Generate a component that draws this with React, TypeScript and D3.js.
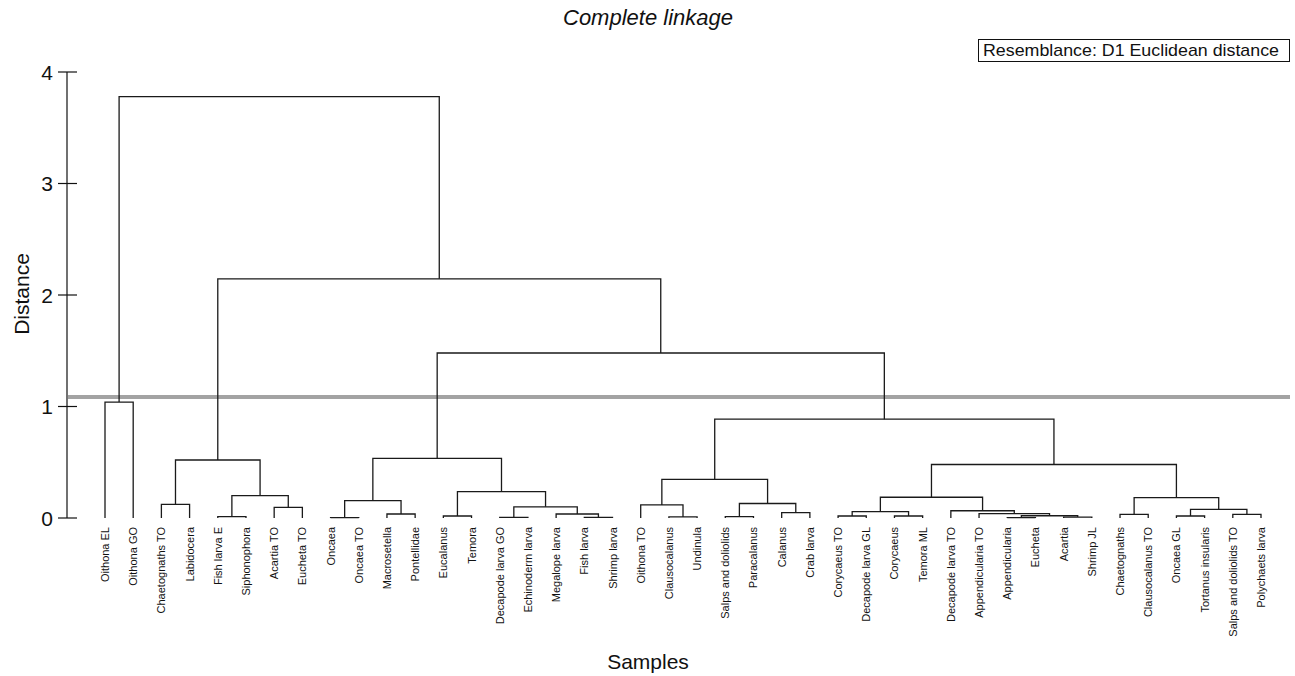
import React from 'react';
import * as d3 from 'd3';

const leaves: string[] = [
  'Oithona EL', 'Oithona GO', 'Chaetognaths TO', 'Labidocera', 'Fish larva E', 'Siphonophora',
  'Acartia TO', 'Eucheta TO', 'Oncaea', 'Oncaea TO', 'Macrosetella', 'Pontellidae', 'Eucalanus',
  'Temora', 'Decapode larva GO', 'Echinoderm larva', 'Megalope larva', 'Fish larva', 'Shrimp larva',
  'Oithona TO', 'Clausocalanus', 'Undinula', 'Salps and doliolids', 'Paracalanus', 'Calanus',
  'Crab larva', 'Corycaeus TO', 'Decapode larva GL', 'Corycaeus', 'Temora ML', 'Decapode larva TO',
  'Appendicularia TO', 'Appendicularia', 'Eucheta', 'Acartia', 'Shrimp JL', 'Chaetognaths',
  'Clausocalanus TO', 'Oncaea GL', 'Tortanus insularis', 'Salps and doliolids TO', 'Polychaets larva',
];

// [cluster id, left child, right child, merge distance]
const merges: [string, string, string, number][] = [
  ['m1', 'Oncaea', 'Oncaea TO', 0.004],
  ['m2', 'Appendicularia', 'Eucheta', 0.004],
  ['m3', 'Fish larva E', 'Siphonophora', 0.012],
  ['m4', 'Decapode larva GO', 'Echinoderm larva', 0.006],
  ['m5', 'Fish larva', 'Shrimp larva', 0.006],
  ['m6', 'Acartia', 'Shrimp JL', 0.008],
  ['m7', 'Clausocalanus', 'Undinula', 0.01],
  ['m8', 'Salps and doliolids', 'Paracalanus', 0.012],
  ['m9', 'Eucalanus', 'Temora', 0.018],
  ['m10', 'Corycaeus TO', 'Decapode larva GL', 0.018],
  ['m11', 'Corycaeus', 'Temora ML', 0.018],
  ['m12', 'Oncaea GL', 'Tortanus insularis', 0.018],
  ['m13', 'm2', 'm6', 0.02],
  ['m14', 'Macrosetella', 'Pontellidae', 0.036],
  ['m15', 'Megalope larva', 'm5', 0.036],
  ['m16', 'Chaetognaths', 'Clausocalanus TO', 0.033],
  ['m17', 'Salps and doliolids TO', 'Polychaets larva', 0.033],
  ['m18', 'Appendicularia TO', 'm13', 0.039],
  ['m19', 'Calanus', 'Crab larva', 0.048],
  ['m20', 'm10', 'm11', 0.057],
  ['m21', 'Decapode larva TO', 'm18', 0.065],
  ['m22', 'm12', 'm17', 0.078],
  ['m23', 'Acartia TO', 'Eucheta TO', 0.096],
  ['m24', 'm4', 'm15', 0.1],
  ['m25', 'Oithona TO', 'm7', 0.117],
  ['m26', 'Chaetognaths TO', 'Labidocera', 0.123],
  ['m27', 'm8', 'm19', 0.13],
  ['m28', 'm1', 'm14', 0.155],
  ['m29', 'm20', 'm21', 0.186],
  ['m30', 'm16', 'm22', 0.182],
  ['m31', 'm3', 'm23', 0.2],
  ['m32', 'm9', 'm24', 0.236],
  ['m33', 'm25', 'm27', 0.347],
  ['m34', 'm29', 'm30', 0.48],
  ['m35', 'm26', 'm31', 0.52],
  ['m36', 'm28', 'm32', 0.535],
  ['m37', 'm33', 'm34', 0.886],
  ['m38', 'Oithona EL', 'Oithona GO', 1.04],
  ['m39', 'm36', 'm37', 1.48],
  ['m40', 'm35', 'm39', 2.145],
  ['m41', 'm38', 'm40', 3.78],
];

const yTicks: number[] = [0, 1, 2, 3, 4];
const cutHeight = 1.085;
const titleText = 'Complete linkage';
const resemblanceText = 'Resemblance: D1 Euclidean distance';
const xLabel = 'Samples';
const yLabel = 'Distance';

const FONT = "Arial, 'Liberation Sans', sans-serif";

export default function App() {
  const W = 1295;
  const H = 676;
  const x = d3.scalePoint<string>().domain(leaves).range([105, 1261]);
  const y = d3.scaleLinear().domain([0, 4]).range([518, 72]);

  const pos = new Map<string, { x: number; h: number }>();
  leaves.forEach((l) => pos.set(l, { x: x(l) as number, h: 0 }));
  const paths: string[] = [];
  merges.forEach(([id, a, b, h]) => {
    const pa = pos.get(a)!;
    const pb = pos.get(b)!;
    const p = d3.path();
    p.moveTo(pa.x, y(pa.h));
    p.lineTo(pa.x, y(h));
    p.lineTo(pb.x, y(h));
    p.lineTo(pb.x, y(pb.h));
    paths.push(p.toString());
    pos.set(id, { x: (pa.x + pb.x) / 2, h });
  });

  const axisX = 67;

  return (
    <div style={{ position: 'absolute', left: 0, top: 0 }}>
      <svg width={W} height={H} style={{ display: 'block', background: '#fff' }} fontFamily={FONT}>
        <text x={648} y={25} textAnchor="middle" fontSize={22} fontStyle="italic" fill="#111">
          {titleText}
        </text>
        <rect x={978.5} y={39.5} width={311} height={22} fill="#fff" stroke="#111" strokeWidth={1} />
        <text x={983} y={56} fontSize={17} fill="#111" textLength={296} lengthAdjust="spacingAndGlyphs">
          {resemblanceText}
        </text>

        {/* y axis */}
        <line x1={axisX} x2={axisX} y1={y(4)} y2={y(0)} stroke="#111" strokeWidth={1.2} />
        {yTicks.map((t) => (
          <g key={t}>
            <line x1={58} x2={77} y1={y(t)} y2={y(t)} stroke="#111" strokeWidth={1.2} />
            <text x={53} y={y(t)} dy="0.36em" textAnchor="end" fontSize={21} fill="#111">
              {t}
            </text>
          </g>
        ))}
        <text
          transform={`translate(${29},${294}) rotate(-90)`}
          textAnchor="middle"
          fontSize={21}
          fill="#111"
        >
          {yLabel}
        </text>

        {/* cut line */}
        <line x1={68} x2={1290} y1={y(cutHeight)} y2={y(cutHeight)} stroke="#a3a3a3" strokeWidth={4} />

        {/* dendrogram */}
        <g fill="none" stroke="#1a1a1a" strokeWidth={1.3}>
          {paths.map((d, i) => (
            <path key={i} d={d} />
          ))}
        </g>

        {/* leaf labels */}
        {leaves.map((l) => (
          <text
            key={l}
            transform={`translate(${(x(l) as number) + 4},${527}) rotate(-90)`}
            textAnchor="end"
            fontSize={11}
            fill="#111"
          >
            {l}
          </text>
        ))}

        <text x={648} y={669} textAnchor="middle" fontSize={21} fill="#111">
          {xLabel}
        </text>
      </svg>
    </div>
  );
}
